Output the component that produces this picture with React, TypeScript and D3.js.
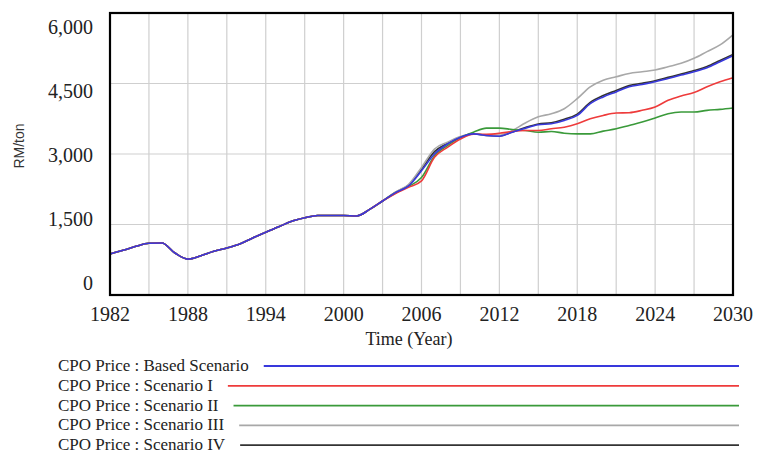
import React, { useEffect, useRef } from "react";
import * as d3 from "d3";

const width = 757;
const height = 454;

// shared history, 1982-2002
const history = [
  871, 950, 1036, 1100, 1107, 893, 764, 836, 929, 1000, 1086, 1214, 1336, 1450, 1571,
  1643, 1693, 1690, 1690, 1682, 1821,
];

// scenario runs, 2003-2030
const basedScenario = [
  2000, 2179, 2321, 2643, 3000, 3214, 3357, 3428, 3393, 3379, 3464, 3550, 3621, 3643,
  3714, 3821, 4071, 4214, 4321, 4429, 4479, 4536, 4607, 4679, 4750, 4836, 4964, 5093,
];
const scenarioI = [
  2000, 2160, 2290, 2428, 2929, 3143, 3321, 3420, 3420, 3440, 3479, 3500, 3500, 3536,
  3571, 3643, 3750, 3821, 3871, 3879, 3929, 4000, 4143, 4236, 4307, 4429, 4536, 4621,
];
const scenarioII = [
  2000, 2170, 2310, 2500, 2960, 3180, 3350, 3464, 3550, 3550, 3521, 3500, 3464, 3479,
  3443, 3429, 3429, 3486, 3536, 3607, 3679, 3764, 3857, 3893, 3893, 3929, 3950, 3979,
];
const scenarioIII = [
  2000, 2190, 2350, 2714, 3107, 3250, 3370, 3430, 3400, 3400, 3500, 3660, 3790, 3857,
  3964, 4179, 4429, 4571, 4643, 4714, 4750, 4786, 4857, 4929, 5036, 5179, 5321, 5536,
];
const scenarioIV = [
  2000, 2185, 2340, 2680, 3050, 3230, 3360, 3430, 3395, 3385, 3470, 3565, 3640, 3665,
  3740, 3850, 4100, 4245, 4350, 4455, 4505, 4560, 4630, 4700, 4775, 4860, 4990, 5120,
];

const years = d3.range(1982, 2031);
const yTicks = [0, 1500, 3000, 4500, 6000];
const xTicks = d3.range(1982, 2031, 6);

const series = [
  { name: "CPO Price : Based Scenario", color: "#3838dc", values: basedScenario },
  { name: "CPO Price : Scenario I", color: "#ee3b3b", values: scenarioI },
  { name: "CPO Price : Scenario II", color: "#3a9a3a", values: scenarioII },
  { name: "CPO Price : Scenario III", color: "#a8a8a8", values: scenarioIII },
  { name: "CPO Price : Scenario IV", color: "#333333", values: scenarioIV },
];

const serif = "'Liberation Serif', 'Times New Roman', serif";

const App: React.FC = () => {
  const svgRef = useRef<SVGSVGElement | null>(null);

  useEffect(() => {
    if (!svgRef.current) return;
    const svg = d3.select(svgRef.current);
    svg.selectAll("*").remove();

    const x = d3.scaleLinear().domain([1982, 2030]).range([110, 733]);
    const y = d3.scaleLinear().domain([0, 6000]).range([295, 13]);
    // vensim spreads the value labels a bit inside the frame
    const yLabel = d3.scaleLinear().domain([0, 6000]).range([283, 27]);

    // grid
    const grid = svg.append("g").attr("stroke", "#cfcfcf").attr("stroke-width", 1.2);
    grid
      .selectAll("line.v")
      .data(d3.range(1985, 2030, 3))
      .join("line")
      .attr("x1", (d) => x(d))
      .attr("x2", (d) => x(d))
      .attr("y1", y(6000))
      .attr("y2", y(0));
    grid
      .selectAll("line.h")
      .data([1500, 3000, 4500])
      .join("line")
      .attr("x1", x(1982))
      .attr("x2", x(2030))
      .attr("y1", (d) => y(d))
      .attr("y2", (d) => y(d));

    // lines, base scenario on top
    const line = d3
      .line<number>()
      .x((_, i) => x(years[i]))
      .y((d) => y(d))
      .curve(d3.curveMonotoneX);

    svg
      .append("g")
      .selectAll("path")
      .data(series.slice().reverse())
      .join("path")
      .attr("fill", "none")
      .attr("stroke", (d) => d.color)
      .attr("stroke-width", 1.6)
      .attr("d", (d) => line(history.concat(d.values)));

    // frame
    svg
      .append("rect")
      .attr("x", x(1982))
      .attr("y", y(6000))
      .attr("width", x(2030) - x(1982))
      .attr("height", y(0) - y(6000))
      .attr("fill", "none")
      .attr("stroke", "#000")
      .attr("stroke-width", 2.2);

    // y labels
    svg
      .append("g")
      .selectAll("text")
      .data(yTicks)
      .join("text")
      .attr("x", 93)
      .attr("y", (d) => yLabel(d) + 7)
      .attr("text-anchor", "end")
      .attr("font-family", serif)
      .attr("font-size", 20)
      .attr("fill", "#222")
      .text((d) => d3.format(",")(d));

    // x labels
    svg
      .append("g")
      .selectAll("text")
      .data(xTicks)
      .join("text")
      .attr("x", (d) => x(d))
      .attr("y", 321)
      .attr("text-anchor", "middle")
      .attr("font-family", serif)
      .attr("font-size", 20)
      .attr("fill", "#222")
      .text((d) => String(d));

    svg
      .append("text")
      .attr("x", 409)
      .attr("y", 345)
      .attr("text-anchor", "middle")
      .attr("font-family", serif)
      .attr("font-size", 18)
      .attr("fill", "#222")
      .text("Time (Year)");

    svg
      .append("text")
      .attr("transform", "translate(24,146) rotate(-90)")
      .attr("text-anchor", "middle")
      .attr("font-family", "'Liberation Sans', Arial, sans-serif")
      .attr("font-size", 14)
      .attr("fill", "#333")
      .text("RM/ton");

    // legend
    const legend = svg
      .append("g")
      .selectAll("g")
      .data(series)
      .join("g")
      .attr("transform", (_, i) => `translate(0,${366 + i * 19.8})`);

    legend
      .append("text")
      .attr("x", 58)
      .attr("y", 5)
      .attr("font-family", serif)
      .attr("font-size", 17)
      .attr("fill", "#222")
      .text((d) => d.name);

    legend.each(function () {
      const g = d3.select(this);
      const t = g.select<SVGTextElement>("text").node();
      const end = 58 + (t ? t.getComputedTextLength() : 180) + 15;
      g.append("line")
        .attr("x1", end)
        .attr("x2", 739)
        .attr("y1", 0)
        .attr("y2", 0)
        .attr("stroke", (d: any) => d.color)
        .attr("stroke-width", 1.8);
    });

    return () => {
      svg.selectAll("*").remove();
    };
  }, []);

  return (
    <svg
      ref={svgRef}
      width={width}
      height={height}
      style={{ position: "absolute", left: 0, top: 0, background: "#fff" }}
    />
  );
};

export default App;
